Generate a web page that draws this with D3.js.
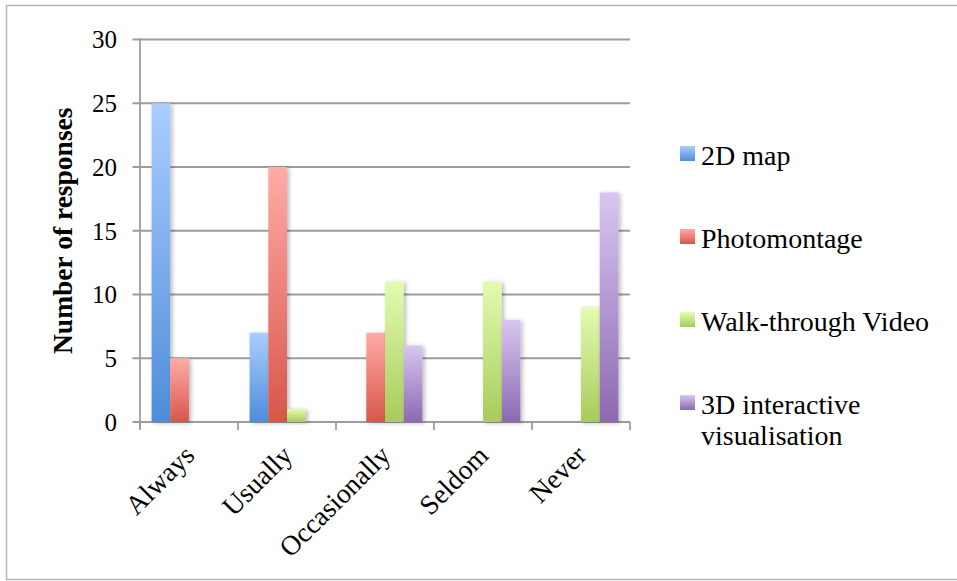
<!DOCTYPE html>
<html>
<head>
<meta charset="utf-8">
<script src="https://cdn.jsdelivr.net/npm/d3@7"></script>
<style>
  html, body { margin: 0; padding: 0; background: #fff; }
  svg { display: block; }
</style>
</head>
<body>
<svg id="chart" width="957" height="581" font-family="'Liberation Serif', 'DejaVu Serif', serif"></svg>
<script>
// Survey responses per frequency category, one array per presentation method
const categories = ["Always", "Usually", "Occasionally", "Seldom", "Never"];
const seriesNames = ["2D map", "Photomontage", "Walk-through Video", "3D interactive visualisation"];
const map2D = [25, 7, 0, 0, 0];
const photomontage = [5, 20, 7, 0, 0];
const walkThroughVideo = [0, 1, 11, 11, 9];
const interactive3D = [0, 0, 6, 8, 18];
const yTicks = [0, 5, 10, 15, 20, 25, 30];

const seriesValues = [map2D, photomontage, walkThroughVideo, interactive3D];
// Light (top) and dark (bottom) shades for each series' gradient
const gradientStops = [
  ["#abcdff", "#4e8dd9"],
  ["#ffaba7", "#d8564a"],
  ["#e3fcb0", "#a8cb5a"],
  ["#d8c6f1", "#8c69b2"]
];

const serif = "'Liberation Serif', 'DejaVu Serif', serif";
const svg = d3.select("#chart");
const defs = svg.append("defs");

gradientStops.forEach((c, i) => {
  const g = defs.append("linearGradient")
    .attr("id", "grad" + i)
    .attr("x1", 0).attr("y1", 0).attr("x2", 0).attr("y2", 1);
  g.append("stop").attr("offset", "0%").attr("stop-color", c[0]);
  g.append("stop").attr("offset", "100%").attr("stop-color", c[1]);
});

const shadow = defs.append("filter").attr("id", "barShadow")
  .attr("x", "-30%").attr("y", "-10%").attr("width", "170%").attr("height", "130%");
shadow.append("feDropShadow")
  .attr("dx", 2).attr("dy", 1).attr("stdDeviation", 2)
  .attr("flood-color", "#000").attr("flood-opacity", 0.28);

// Outer frame
svg.append("rect")
  .attr("x", 6.5).attr("y", 5.5).attr("width", 960).attr("height", 574)
  .attr("fill", "none").attr("stroke", "#b4b4b4").attr("stroke-width", 1.5);

const plot = { left: 140, right: 630, top: 39.5, bottom: 422 };

const x = d3.scaleBand().domain(categories).range([plot.left, plot.right]).padding(0);
const xInner = d3.scaleBand().domain(d3.range(seriesNames.length))
  .range([0, x.bandwidth()]).paddingInner(0).paddingOuter(0.62);
const y = d3.scaleLinear().domain([0, 30]).range([plot.bottom, plot.top]);

const gridColor = "#9d9d9d";

// Horizontal gridlines (extend left of the axis as tick marks)
svg.append("g").selectAll("line").data(yTicks).join("line")
  .attr("x1", plot.left - 7.5).attr("x2", plot.right)
  .attr("y1", d => y(d)).attr("y2", d => y(d))
  .attr("stroke", gridColor).attr("stroke-width", 1.8);

// Y axis line
svg.append("line")
  .attr("x1", plot.left).attr("x2", plot.left)
  .attr("y1", plot.top - 1).attr("y2", plot.bottom + 8)
  .attr("stroke", gridColor).attr("stroke-width", 1.8);

// Category boundary ticks on the x axis
const boundaries = categories.map(c => x(c)).concat([plot.right]);
svg.append("g").selectAll("line").data(boundaries).join("line")
  .attr("x1", d => d).attr("x2", d => d)
  .attr("y1", plot.bottom).attr("y2", plot.bottom + 8)
  .attr("stroke", gridColor).attr("stroke-width", 1.8);

// Y tick labels
svg.append("g").selectAll("text").data(yTicks).join("text")
  .attr("x", 117).attr("y", d => y(d))
  .attr("dy", "0.35em")
  .attr("text-anchor", "end")
  .attr("font-family", serif)
  .attr("font-size", 25)
  .text(d => d);

// Y axis title
svg.append("text")
  .attr("transform", `translate(72,${(plot.top + plot.bottom) / 2}) rotate(-90)`)
  .attr("text-anchor", "middle")
  .attr("font-family", serif)
  .attr("font-size", 27.5)
  .attr("font-weight", "bold")
  .text("Number of responses");

// Bars
const barData = [];
seriesValues.forEach((vals, si) => {
  vals.forEach((v, ci) => {
    if (v > 0) barData.push({ si, category: categories[ci], value: v });
  });
});

svg.append("g").selectAll("rect").data(barData).join("rect")
  .attr("x", d => x(d.category) + xInner(d.si))
  .attr("width", xInner.bandwidth())
  .attr("y", d => y(d.value))
  .attr("height", d => y(0) - y(d.value))
  .attr("fill", d => `url(#grad${d.si})`)
  .attr("filter", "url(#barShadow)");

// Category labels, rotated
svg.append("g").selectAll("text").data(categories).join("text")
  .attr("transform", d => `translate(${x(d) + x.bandwidth() / 2 + 7},457) rotate(-45)`)
  .attr("text-anchor", "end")
  .attr("font-family", serif)
  .attr("font-size", 27.5)
  .text(d => d);

// Legend
const legendRows = [
  ["2D map"],
  ["Photomontage"],
  ["Walk-through Video"],
  ["3D interactive", "visualisation"]
];
const legend = svg.append("g");
legendRows.forEach((lines, i) => {
  const top = 146 + i * 83;
  legend.append("rect")
    .attr("x", 680).attr("y", top).attr("width", 15).attr("height", 15)
    .attr("fill", `url(#grad${i})`);
  const t = legend.append("text")
    .attr("x", 701).attr("y", top + 19)
    .attr("font-family", serif)
    .attr("font-size", 28);
  lines.forEach((ln, j) => {
    t.append("tspan").attr("x", 701).attr("dy", j === 0 ? 0 : 31).text(ln);
  });
});
</script>
</body>
</html>
